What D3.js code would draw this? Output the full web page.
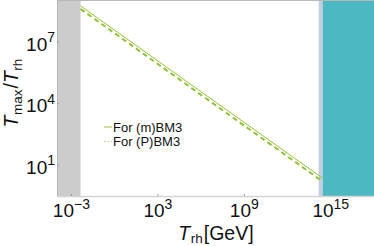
<!DOCTYPE html>
<html>
<head>
<meta charset="utf-8">
<script src="https://cdn.jsdelivr.net/npm/d3@7"></script>
<style>
  body { margin: 0; background: #fff; }
  svg text { font-family: "Liberation Sans", Arial, sans-serif; fill: #111; }
</style>
</head>
<body>
<svg id="chart" width="374" height="246"></svg>
<script>
// reheating temperature endpoints and T_max/T_rh values
var trh = [4.3e-3, 2.75e14];
var ratioM = [5.8e8, 2.3];
var ratioP = [4.1e8, 1.6];

// shaded regions [from, to] in GeV
var grayBand = [1e-4, 4.3e-3];
var lavBand = [1.45e14, 2.75e14];
var tealBand = [2.75e14, 1e18];

var xTicks = [-3, 3, 9, 15];
var yTicks = [1, 4, 7];

var legendNames = ['For (m)BM3', 'For (P)BM3'];

var svg = d3.select('#chart');
var plotL = 57, plotR = 374, plotT = 0, plotB = 196;

var x = d3.scaleLog().domain([1e-4, 1e18]).range([plotL, plotR]);
var y = d3.scaleLog().domain([Math.pow(10, -0.5), Math.pow(10, 9.05)]).range([plotB, plotT]);

var green = '#93c13c';

// bands
svg.append('rect')
  .attr('x', x(grayBand[0])).attr('y', plotT)
  .attr('width', x(grayBand[1]) - x(grayBand[0])).attr('height', plotB - plotT)
  .style('fill', '#cccccc');
svg.append('rect')
  .attr('x', x(lavBand[0])).attr('y', plotT)
  .attr('width', x(lavBand[1]) - x(lavBand[0])).attr('height', plotB - plotT)
  .style('fill', '#c6cde2');
svg.append('rect')
  .attr('x', x(tealBand[0])).attr('y', plotT)
  .attr('width', x(tealBand[1]) - x(tealBand[0])).attr('height', plotB - plotT)
  .style('fill', '#4bb8c2');

// frame
svg.append('line').attr('x1', plotL).attr('x2', plotR).attr('y1', plotT + 0.5).attr('y2', plotT + 0.5)
  .style('stroke', '#b8b8b8');
svg.append('line').attr('x1', plotL).attr('x2', plotR).attr('y1', plotB + 0.5).attr('y2', plotB + 0.5)
  .style('stroke', '#d4d4d4').style('stroke-width', 1.5);
svg.append('line').attr('x1', plotL + 0.5).attr('x2', plotL + 0.5).attr('y1', plotT).attr('y2', plotB)
  .style('stroke', '#b8b8b8');

// lines
var line = d3.line()
  .x(function(d, i) {return x(trh[i]);})
  .y(function(d) {return y(d);});

svg.append('path').datum(ratioM)
  .attr('d', line)
  .style('fill', 'none').style('stroke', green).style('stroke-width', 1);
svg.append('path').datum(ratioP)
  .attr('d', line)
  .style('fill', 'none').style('stroke', green).style('stroke-width', 2)
  .style('stroke-dasharray', '5,3.5');

// x tick marks and labels
xTicks.forEach(function(e) {
  var px = x(Math.pow(10, e));
  svg.append('line').attr('x1', px).attr('x2', px).attr('y1', plotB - 2).attr('y2', plotB)
    .style('stroke', '#999');
  var t = svg.append('text').attr('x', px).attr('y', 217)
    .attr('text-anchor', 'middle').style('font-size', '19px');
  t.append('tspan').text('10');
  t.append('tspan').attr('dy', -8.5).style('font-size', '14px')
    .text(e < 0 ? '\u2212' + (-e) : e);
});

// y tick marks and labels
yTicks.forEach(function(e) {
  var py = y(Math.pow(10, e));
  svg.append('line').attr('x1', plotL).attr('x2', plotL + 2).attr('y1', py).attr('y2', py)
    .style('stroke', '#999');
  var t = svg.append('text').attr('x', 55).attr('y', py + 8.5)
    .attr('text-anchor', 'end').style('font-size', '19px');
  t.append('tspan').text('10');
  t.append('tspan').attr('dy', -8.5).style('font-size', '14px').text(e);
});

// axis titles
var xl = svg.append('text').attr('x', 216).attr('y', 239.5)
  .attr('text-anchor', 'middle').style('font-size', '19.5px');
xl.append('tspan').style('font-style', 'italic').text('T');
xl.append('tspan').attr('dy', 3.5).attr('dx', 0.5).style('font-size', '13.5px').text('rh');
xl.append('tspan').attr('dy', -3.5).attr('dx', 1).text('[GeV]');

var yl = svg.append('text').attr('transform', 'translate(18,93) rotate(-90)')
  .attr('text-anchor', 'middle').style('font-size', '19.5px');
yl.append('tspan').style('font-style', 'italic').text('T');
yl.append('tspan').attr('dy', 4).attr('dx', 0.5).style('font-size', '13.5px').text('max');
yl.append('tspan').attr('dy', -4).attr('dx', 1).text('/');
yl.append('tspan').style('font-style', 'italic').text('T');
yl.append('tspan').attr('dy', 4).attr('dx', 0.5).style('font-size', '13.5px').text('rh');

// legend
var legend = svg.selectAll('.legend')
  .data(legendNames)
  .enter().append('g')
  .attr('class', 'legend')
  .attr('transform', function(d, i) {return 'translate(104,' + (127 + i * 14.5) + ')';});

legend.append('line')
  .attr('x1', 0).attr('x2', 8).attr('y1', 0).attr('y2', 0)
  .style('stroke', function(d, i) {return i == 0 ? green : '#c2dc90';})
  .style('stroke-width', 1)
  .style('stroke-dasharray', function(d, i) {return i == 0 ? null : '2,1.5';});

legend.append('text')
  .attr('x', 9).attr('y', 4.5)
  .style('font-size', '13px')
  .text(function(d) {return d;});
</script>
</body>
</html>
